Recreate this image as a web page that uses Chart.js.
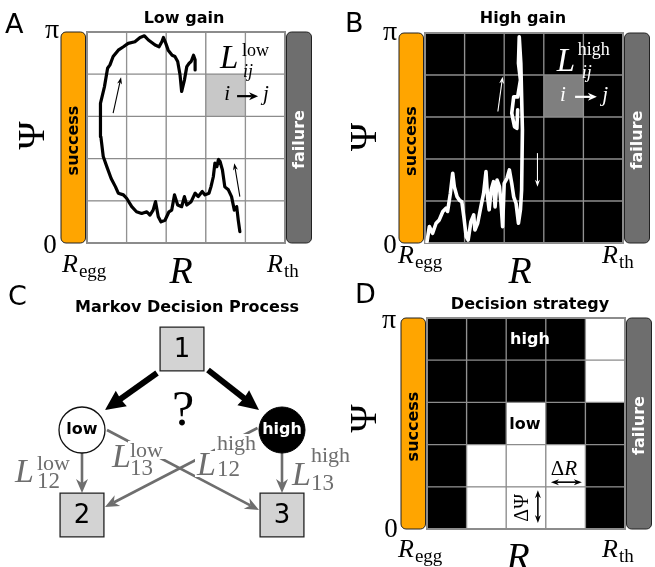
<!DOCTYPE html>
<html><head><meta charset="utf-8">
<script src="https://cdn.jsdelivr.net/npm/chart.js@4"></script>
<style>
html,body{margin:0;padding:0;background:#fff;}
body{width:655px;height:567px;position:relative;overflow:hidden;}
canvas{position:absolute;}
</style></head><body>
<canvas id="cA" width="340" height="285" style="left:0;top:0"></canvas>
<canvas id="cB" width="315" height="285" style="left:340px;top:0"></canvas>
<canvas id="cC" width="360" height="285" style="left:0;top:282px"></canvas>
<canvas id="cD" width="315" height="285" style="left:340px;top:282px"></canvas>
<script>
// ---------------- data ----------------
const rBins = [0, 1, 2, 3, 4];          // R bins (Regg -> Rth)
const psiBins = [0, 1, 2, 3, 4];        // Psi bins (0 -> pi)
const psiTickLabels = ['0', 'π'];
const rTickSubs = ['egg', 'th'];
const highlightCell = [3, 3];           // [R bin, Psi bin] of L_ij example

const lowGainR = [3.86,3.82,3.78,3.72,3.65,3.57,3.48,3.42,3.36,3.32,
  3.28,3.23,3.19,3.13,3.08,2.98,2.91,2.81,2.73,2.63,
  2.52,2.46,2.39,2.29,2.21,2.14,2.07,1.97,1.87,1.80,
  1.73,1.67,1.59,1.51,1.38,1.25,1.13,1.00,0.92,0.79,
  0.72,0.61,0.50,0.41,0.35,0.33,0.35,0.44,0.52,0.58,
  0.66,0.79,0.92,1.04,1.21,1.34,1.45,1.55,1.72,1.82,
  1.89,1.93,1.99,2.05,2.15,2.22,2.29,2.35,2.39,2.46,
  2.52,2.58,2.63,2.69,2.73,2.73];
const lowGainPsi = [0.27,0.54,0.86,0.78,1.10,1.26,1.33,1.73,1.93,1.98,
  1.81,1.89,1.57,1.33,1.18,1.14,1.22,1.10,1.18,0.98,
  0.90,1.10,0.86,0.90,1.14,0.78,0.74,0.54,0.50,0.62,
  0.98,0.78,0.66,0.74,0.70,0.74,0.86,1.06,1.14,1.18,
  1.33,1.53,1.81,2.05,2.52,2.84,3.31,3.70,4.14,4.22,
  4.42,4.57,4.65,4.73,4.77,4.87,4.91,4.81,4.69,4.65,
  4.77,4.87,4.73,4.57,4.45,4.42,4.30,3.98,3.59,3.86,
  4.18,4.26,4.30,4.45,4.34,4.10];

const highGainR = [0.05,0.11,0.19,0.28,0.36,0.45,0.53,0.57,0.64,0.70,
  0.74,0.81,0.87,0.93,0.98,1.04,1.09,1.16,1.23,1.26,
  1.33,1.41,1.48,1.54,1.58,1.62,1.67,1.73,1.77,1.82,
  1.88,1.92,1.96,2.00,2.07,2.13,2.19,2.24,2.30,2.36,
  2.41,2.44,2.46,2.42,2.38,2.36,2.41,2.34,2.24,2.19,
  2.26,2.32,2.34];
const highGainPsi = [0.03,0.39,0.23,0.47,0.55,0.75,0.83,0.75,1.18,1.66,
  1.34,1.10,1.02,0.98,0.63,0.15,0.07,0.51,0.67,0.31,
  0.47,0.86,1.18,1.70,1.10,0.79,1.26,1.46,0.86,1.50,
  1.34,0.94,0.39,1.42,1.54,1.74,1.42,1.10,0.94,0.47,
  0.79,1.26,2.69,4.28,4.91,4.28,3.88,3.48,3.48,3.09,
  2.77,2.73,3.17];

// decision strategy, rows Psi bin 0 (bottom) .. 4 (top), columns R bins
const strategy = [
  ['high','low','low','low','high'],
  ['high','low','low','low','high'],
  ['high','high','low','high','high'],
  ['high','high','high','high','low'],
  ['high','high','high','high','low']
];

// Markov decision process diagram
const nodeNames = ['1','2','3','low','high'];
const nodeX = [182, 82, 282, 82, 282];
const nodeY = [67, 233, 233, 148, 148];
const edgeFrom = ['1','1','low','low','high','high'];
const edgeTo   = ['low','high','2','3','2','3'];
const edgeLabelSup = ['', '', 'low', 'low', 'high', 'high'];
const edgeLabelSub = ['', '', '12', '13', '12', '13'];

// ---------------- helpers ----------------
const GRID = '#8c8c8c';
const SANS = "'DejaVu Sans'";
const SERIF = "'Liberation Serif'";

function rr(ctx,x,y,w,h,r){ctx.beginPath();ctx.moveTo(x+r,y);ctx.arcTo(x+w,y,x+w,y+h,r);ctx.arcTo(x+w,y+h,x,y+h,r);ctx.arcTo(x,y+h,x,y,r);ctx.arcTo(x,y,x+w,y,r);ctx.closePath();}
function head(ctx,x1,y1,ux,uy,len,wid,color,notch){
  const bx=x1-ux*len, by=y1-uy*len, nx=-uy, ny=ux;
  ctx.beginPath();ctx.moveTo(x1,y1);
  ctx.lineTo(bx+nx*wid/2,by+ny*wid/2);
  ctx.lineTo(x1-ux*len*(1-notch),y1-uy*len*(1-notch));
  ctx.lineTo(bx-nx*wid/2,by-ny*wid/2);ctx.closePath();
  ctx.fillStyle=color;ctx.fill();
}
function arrow(ctx,x0,y0,x1,y1,o){
  const dx=x1-x0,dy=y1-y0,d=Math.hypot(dx,dy),ux=dx/d,uy=dy/d;
  const sx=o.both?x0+ux*o.len*0.7:x0, sy=o.both?y0+uy*o.len*0.7:y0;
  ctx.save();ctx.strokeStyle=o.color;ctx.lineWidth=o.width;ctx.lineCap='butt';
  ctx.beginPath();ctx.moveTo(sx,sy);ctx.lineTo(x1-ux*o.len*0.7,y1-uy*o.len*0.7);ctx.stroke();
  head(ctx,x1,y1,ux,uy,o.len,o.wid,o.color,o.notch||0.3);
  if(o.both) head(ctx,x0,y0,-ux,-uy,o.len,o.wid,o.color,o.notch||0.3);
  ctx.restore();
}
function txt(ctx,s,x,y,font,color,align,base,rot){
  ctx.save();ctx.font=font;ctx.fillStyle=color;ctx.textAlign=align||'center';ctx.textBaseline=base||'alphabetic';
  ctx.translate(x,y);if(rot)ctx.rotate(rot);ctx.fillText(s,0,0);ctx.restore();
}
function mathL(ctx,x,base,o){
  const fL=`italic ${o.ls}px ${SERIF}`, fS=`${o.ss}px ${SERIF}`, fB=`${o.subItalic?'italic ':''}${o.bs}px ${SERIF}`;
  const parts=[['L',fL,x,base],[o.sup,fS,x+o.supDx,base+o.supDy],[o.sub,fB,x+o.subDx,base+o.subDy]];
  ctx.save();ctx.textAlign='left';ctx.textBaseline='alphabetic';
  if(o.mask){ctx.fillStyle='#fff';parts.forEach(([t,f,px,py])=>{ctx.font=f;const m=ctx.measureText(t);
    ctx.fillRect(px-2,py-m.actualBoundingBoxAscent-2,m.width+4,m.actualBoundingBoxAscent+m.actualBoundingBoxDescent+4);});}
  ctx.fillStyle=o.color;parts.forEach(([t,f,px,py])=>{ctx.font=f;ctx.fillText(t,px,py);});
  ctx.restore();
}
function rSub(ctx,left,base,sub){
  ctx.save();ctx.textAlign='left';ctx.textBaseline='alphabetic';ctx.fillStyle='#000';
  ctx.font=`italic 26px ${SERIF}`;ctx.fillText('R',left,base);const w=ctx.measureText('R').width;
  ctx.font=`19px ${SERIF}`;ctx.fillText(sub,left+w+1,base+5);ctx.restore();
}

// ---------------- grid panels ----------------
function gridChart(id,P){
  const datasets=[];
  if(P.trajR) datasets.push({type:'line',xAxisID:'xl',yAxisID:'y',
    data:P.trajR.map((r,i)=>({x:r,y:P.trajPsi[i]})),borderColor:P.trajColor,borderWidth:P.trajWidth,
    pointRadius:0,tension:0,fill:false,borderJoinStyle:'round',borderCapStyle:'round',order:-1});
  psiBins.forEach(r=>datasets.push({type:'bar',xAxisID:'x',yAxisID:'y',
    data:rBins.map(()=>[r,r+1]),backgroundColor:rBins.map(c=>P.cellColor(c,r)),
    borderColor:GRID,borderWidth:1,borderSkipped:false,barPercentage:1,categoryPercentage:1,grouped:false,order:1}));
  const frame=(c)=>{const a=c.chartArea,ctx=c.ctx;ctx.save();ctx.strokeStyle=GRID;ctx.lineWidth=2;
    ctx.strokeRect(a.left,a.top,a.right-a.left,a.bottom-a.top);ctx.restore();};
  return new Chart(document.getElementById(id),{
    type:'bar',
    data:{labels:rBins.map(String),datasets},
    options:{responsive:false,animation:false,events:[],devicePixelRatio:1,
      layout:{padding:P.pad,autoPadding:false},
      plugins:{legend:{display:false},tooltip:{enabled:false}},
      scales:{x:{type:'category',display:false,offset:true},
        xl:{type:'linear',min:0,max:5,display:false,offset:false},
        y:{type:'linear',min:0,max:5,display:false,offset:false}}},
    plugins:[{id:'deco',
      beforeDraw(c){const a=c.chartArea,ctx=c.ctx,L=P.lab;
        ctx.save();ctx.lineWidth=1;ctx.strokeStyle='#222';
        rr(ctx,a.left-26,a.top,24.5,a.bottom-a.top,5);ctx.fillStyle='#ffa500';ctx.fill();ctx.stroke();
        rr(ctx,a.right+1.5,a.top,25,a.bottom-a.top,5);ctx.fillStyle='#6e6e6e';ctx.fill();ctx.stroke();
        ctx.restore();
        const mid=(a.top+a.bottom)/2;
        txt(ctx,'success',a.left-13.5,mid+L.sucDy,`bold 16px ${SANS}`,'#000','center','middle',-Math.PI/2);
        txt(ctx,'failure',a.right+14.5,mid+L.failDy,`bold 16px ${SANS}`,'#fff','center','middle',-Math.PI/2);
        txt(ctx,P.letter,a.left+L.lx,a.top+L.lb,`27px ${SANS}`,'#000','left');
        txt(ctx,P.title,(a.left+a.right)/2+L.tx,a.top+L.tb,`bold 16px ${SANS}`,'#000','center');
        txt(ctx,psiTickLabels[1],a.left+L.piX,a.top+L.piB,`28px ${SERIF}`,'#000','center');
        txt(ctx,psiTickLabels[0],a.left+L.zX,a.bottom+L.zB,`27px ${SERIF}`,'#000','center');
        txt(ctx,'Ψ',a.left+L.psiX,mid+L.psiDy,`38px ${SERIF}`,'#000','center','middle',-Math.PI/2);
        rSub(ctx,a.left+L.eggX,a.bottom+L.eggB,rTickSubs[0]);
        rSub(ctx,a.right+L.thX,a.bottom+L.eggB,rTickSubs[1]);
        txt(ctx,'R',a.left+L.rX,a.bottom+L.rB,`italic 38px ${SERIF}`,'#000','center');
      },
      beforeDatasetDraw(c,args){if(args.meta.type==='line')frame(c);},
      afterDatasetsDraw(c){if(!P.trajR)frame(c);
        const X=v=>c.scales.xl.getPixelForValue(v),Y=v=>c.scales.y.getPixelForValue(v);
        P.decor(c.ctx,X,Y);}
    }]
  });
}

gridChart('cA',{
  pad:{left:87,top:32,right:55,bottom:42},
  letter:'A',title:'Low gain',
  lab:{sucDy:3,failDy:2,lx:-82,lb:1,tx:-2,tb:-9,piX:-35,piB:6,zX:-37,zB:10,psiX:-53,psiDy:-2,eggX:-25,eggB:29,thX:-18,rX:94,rB:40},
  cellColor:(c,r)=>(c===highlightCell[0]&&r===highlightCell[1])?'#c8c8c8':'#ffffff',
  trajR:lowGainR,trajPsi:lowGainPsi,trajColor:'#000',trajWidth:3.2,
  decor(ctx,X,Y){
    mathL(ctx,X(3.36),Y(4.15),{ls:33,sup:'low',ss:18,sub:'ij',bs:18,subItalic:true,supDx:22,supDy:-12,subDx:23,subDy:9,color:'#000'});
    txt(ctx,'i',X(3.54),Y(3.51),`italic 21px ${SERIF}`,'#000','center','middle');
    arrow(ctx,X(3.79),Y(3.48),X(4.32),Y(3.48),{color:'#000',width:2.2,len:9,wid:8});
    txt(ctx,'j',X(4.52),Y(3.51),`italic 21px ${SERIF}`,'#000','center','middle');
    arrow(ctx,X(0.66),Y(3.08),X(0.86),Y(3.93),{color:'#000',width:1.1,len:7,wid:5});
    arrow(ctx,X(3.86),Y(1.10),X(3.72),Y(1.89),{color:'#000',width:1.1,len:7,wid:5});
  }
});

gridChart('cB',{
  pad:{left:85,top:33,right:32,bottom:42},
  letter:'B',title:'High gain',
  lab:{sucDy:3,failDy:2,lx:-80,lb:-1,tx:-1,tb:-10,piX:-35,piB:7,zX:-35,zB:10,psiX:-59,psiDy:-1,eggX:-27,eggB:20,thX:-21,rX:95,rB:40},
  cellColor:(c,r)=>(c===highlightCell[0]&&r===highlightCell[1])?'#7f7f7f':'#000000',
  trajR:highGainR,trajPsi:highGainPsi,trajColor:'#fff',trajWidth:3.6,
  decor(ctx,X,Y){
    mathL(ctx,X(3.33),Y(4.1),{ls:33,sup:'high',ss:18,sub:'ij',bs:18,subItalic:true,supDx:21,supDy:-16,subDx:25,subDy:7,color:'#fff'});
    txt(ctx,'i',X(3.48),Y(3.52),`italic 21px ${SERIF}`,'#fff','center','middle');
    arrow(ctx,X(3.79),Y(3.48),X(4.34),Y(3.48),{color:'#fff',width:2.2,len:9,wid:8});
    txt(ctx,'j',X(4.55),Y(3.52),`italic 21px ${SERIF}`,'#fff','center','middle');
    arrow(ctx,X(1.84),Y(3.13),X(1.96),Y(3.96),{color:'#fff',width:1.1,len:7,wid:5});
    arrow(ctx,X(2.84),Y(2.14),X(2.84),Y(1.34),{color:'#fff',width:1.1,len:7,wid:5});
  }
});

gridChart('cD',{
  pad:{left:87,top:36,right:30,bottom:38},
  letter:'D',title:'Decision strategy',
  lab:{sucDy:3,failDy:2,lx:-72,lb:-15,tx:4,tb:-9,piX:-38,piB:10,zX:-36,zB:8,psiX:-61,psiDy:-5,eggX:-29,eggB:28,thX:-23,rX:91,rB:40},
  cellColor:(c,r)=>strategy[r][c]==='high'?'#000000':'#ffffff',
  trajR:null,
  decor(ctx,X,Y){
    txt(ctx,'high',X(2.6),Y(4.48),`bold 16px ${SANS}`,'#fff','center','middle');
    txt(ctx,'low',X(2.47),Y(2.46),`bold 16px ${SANS}`,'#000','center','middle');
    ctx.save();ctx.font=`21px ${SERIF}`;const wd=ctx.measureText('Δ').width;ctx.font=`italic 21px ${SERIF}`;const wr=ctx.measureText('R').width;ctx.restore();
    const cx=X(3.46)-(wd+wr)/2,by=Y(1.47)+8;
    txt(ctx,'Δ',cx,by,`21px ${SERIF}`,'#000','left');
    txt(ctx,'R',cx+wd,by,`italic 21px ${SERIF}`,'#000','left');
    arrow(ctx,X(3.13),Y(1.11),X(3.91),Y(1.11),{color:'#000',width:1.6,len:8,wid:6,both:true});
    txt(ctx,'ΔΨ',X(2.42),Y(0.5),`20px ${SERIF}`,'#000','center','middle',-Math.PI/2);
    arrow(ctx,X(2.80),Y(0.92),X(2.80),Y(0.14),{color:'#000',width:1.6,len:8,wid:6,both:true});
  }
});

// ---------------- MDP diagram ----------------
const nodeIdx=n=>nodeNames.indexOf(n);
const startOff={'1-low':[-25,24],'1-high':[26,21],'low-2':[0,23],'low-3':[25,0],'high-2':[-24.5,-2],'high-3':[0,23]};
const endOff={'1-low':[23,-20],'1-high':[-23,-20],'low-2':[0,-22],'low-3':[-23,-5],'high-2':[23,-8],'high-3':[0,-22]};
const edgeGeom=edgeFrom.map((f,i)=>{
  const t=edgeTo[i],k=f+'-'+t,a=nodeIdx(f),b=nodeIdx(t);
  const x0=nodeX[a]+startOff[k][0],y0=nodeY[a]+startOff[k][1],x1=nodeX[b]+endOff[k][0],y1=nodeY[b]+endOff[k][1];
  const main=f==='1';
  return {x0,y0,x1,y1,main,len:main?20:14,wid:main?19:12};
});
const boxIdx=nodeNames.map((n,i)=>i).filter(i=>/^\d$/.test(nodeNames[i]));
const mdpDatasets=[
  {type:'scatter',data:boxIdx.map(i=>({x:nodeX[i],y:nodeY[i]})),pointStyle:'rect',pointRadius:31,backgroundColor:'#d3d3d3',borderColor:'#222',borderWidth:1.3},
  {type:'scatter',data:[{x:nodeX[nodeIdx('low')],y:nodeY[nodeIdx('low')]}],pointStyle:'circle',pointRadius:23,backgroundColor:'#fff',borderColor:'#111',borderWidth:1.3},
  {type:'scatter',data:[{x:nodeX[nodeIdx('high')],y:nodeY[nodeIdx('high')]}],pointStyle:'circle',pointRadius:23,backgroundColor:'#000',borderColor:'#000',borderWidth:1}
];
edgeGeom.forEach(g=>{
  const dx=g.x1-g.x0,dy=g.y1-g.y0,d=Math.hypot(dx,dy);
  mdpDatasets.push({type:'line',data:[{x:g.x0,y:g.y0},{x:g.x1-dx/d*g.len*0.7,y:g.y1-dy/d*g.len*0.7}],
    borderColor:g.main?'#000':'#6e6e6e',borderWidth:g.main?6:2.6,pointRadius:0,borderCapStyle:'butt',fill:false,showLine:true});
});
const labelPos={ // L left, baseline, sup dx/dy, sub dx/dy
  2:[15,200,22,-12,22,6], 3:[112,185,18,-10,18,8], 4:[197,193,20,-25,20,1], 5:[292,203,19,-23,19,5]};
new Chart(document.getElementById('cC'),{
  type:'scatter',
  data:{datasets:mdpDatasets},
  options:{responsive:false,animation:false,events:[],devicePixelRatio:1,layout:{padding:0,autoPadding:false},
    plugins:{legend:{display:false},tooltip:{enabled:false}},
    scales:{x:{type:'linear',min:0,max:360,display:false,offset:false},y:{type:'linear',min:0,max:285,reverse:true,display:false,offset:false}}},
  plugins:[{id:'mdp',
    beforeDatasetDraw(c,args){
      if(args.index!==2)return;
      const ctx=c.ctx;
      edgeGeom.forEach((g,i)=>{
        const meta=c.getDatasetMeta(3+i),p0=meta.data[0],p1=meta.data[1];
        const dx=p1.x-p0.x,dy=p1.y-p0.y,d=Math.hypot(dx,dy),ux=dx/d,uy=dy/d;
        head(ctx,p1.x+ux*g.len*0.7,p1.y+uy*g.len*0.7,ux,uy,g.len,g.wid,g.main?'#000':'#6e6e6e',g.main?0.05:0.3);
      });
      edgeGeom.forEach((g,i)=>{
        if(!edgeLabelSup[i])return;const lp=labelPos[i];
        mathL(ctx,lp[0],lp[1],{ls:34,sup:edgeLabelSup[i],ss:22,sub:edgeLabelSub[i],bs:23,subItalic:false,
          supDx:lp[2],supDy:lp[3],subDx:lp[4],subDy:lp[5],color:'#6e6e6e',mask:true});
      });
      txt(ctx,'?',183,143,`50px ${SERIF}`,'#000','center');
    },
    afterDatasetsDraw(c){
      const ctx=c.ctx,xs=c.scales.x,ys=c.scales.y;
      nodeNames.forEach((n,i)=>{
        const px=xs.getPixelForValue(nodeX[i]),py=ys.getPixelForValue(nodeY[i]);
        if(/^\d$/.test(n))txt(ctx,n,px,py+1,`26px ${SANS}`,'#000','center','middle');
        else txt(ctx,n,px,py,`bold 16px ${SANS}`,n==='high'?'#fff':'#000','center','middle');
      });
      txt(ctx,'C',8,23,`27px ${SANS}`,'#000','left');
      txt(ctx,'Markov Decision Process',187,30,`bold 16px ${SANS}`,'#000','center');
    }
  }]
});
</script>
</body></html>
